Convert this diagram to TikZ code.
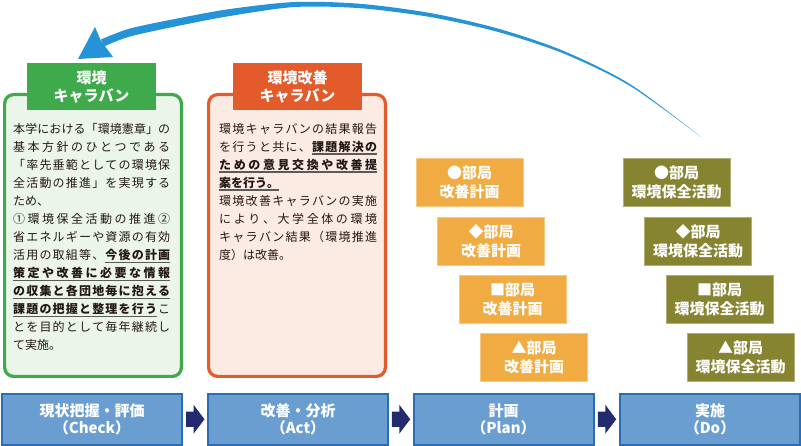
\documentclass[tikz,border=0pt]{standalone}
\usepackage{fontspec}
\setmainfont{Noto Sans CJK JP}
\usetikzlibrary{calc}
\definecolor{cGreen}{HTML}{3EAA4C}
\definecolor{cGreenL}{HTML}{EBF5EA}
\definecolor{cRed}{HTML}{E35B2B}
\definecolor{cRedL}{HTML}{FBEBE3}
\definecolor{cOrange}{HTML}{F0AB42}
\definecolor{cOlive}{HTML}{868331}
\definecolor{cBlueF}{HTML}{6B9ED0}
\definecolor{cBlueD}{HTML}{2C6CB2}
\definecolor{cNavy}{HTML}{222B6E}
\definecolor{cArc}{HTML}{2593D8}
\definecolor{textc}{HTML}{231815}
\definecolor{ulc}{HTML}{5A5A5A}
\ExplSyntaxOn
\cs_new_protected:Npn \__jl_gap: { \hskip 0pt plus 1fil \relax }
\cs_new_protected:Npn \__jl_ulgap: { \leaders \hrule height -2.2pt depth 3.6pt \hskip 0pt plus 1fil \relax }
\cs_new_protected:Npn \__jl_ulchar:n #1
  {
    \hbox_set:Nn \l_tmpa_box { \bfseries \textcolor{textc}{#1} }
    \rlap{ \rule[-3.6pt]{ \box_wd:N \l_tmpa_box }{1.4pt} }
    \box_use:N \l_tmpa_box
  }
\NewDocumentCommand \jl { s O{157pt} m m m }
  {
    \mode_leave_vertical:
    \hbox_to_wd:nn {#2}
      {
        \tl_map_inline:nn {#3} { ##1 \__jl_gap: }
        \tl_if_blank:nF {#4}
          {
            { \color{ulc} \tl_map_inline:nn {#4} { \__jl_ulchar:n {##1} \__jl_ulgap: } \unskip }
            \__jl_gap:
          }
        \tl_map_inline:nn {#5} { ##1 \__jl_gap: }
        \unskip
        \IfBooleanT {#1} { \hskip 0pt plus 1filll \relax }
      }
  }
\ExplSyntaxOff
\newcommand\blockarr[2]{%
  \fill[cNavy] ($(#1.east)!0.5!(#2.west)$) ++(-9,-7.5) -- ++(7.5,0) -- ++(0,-7) -- ++(11,14.5) -- ++(-11,14.5) -- ++(0,-7) -- ++(-7.5,0) -- cycle;}
\tikzset{
  bigbox/.style={line width=3.2pt, rounded corners=9pt, minimum width=176.8pt, minimum height=281.8pt, inner sep=0pt},
  tabbox/.style={inner sep=0pt, minimum width=129pt, minimum height=47pt, text=white, align=center,
    font=\bfseries\fontsize{15}{18}\selectfont},
  bodytext/.style={anchor=north west, inner sep=0pt, text=textc, align=left,
    font=\fontsize{12}{18}\selectfont},
  sbox/.style={inner sep=0pt, minimum width=107pt, minimum height=48pt, text=white, align=center,
    font=\bfseries\fontsize{15}{19}\selectfont, line width=0.8pt},
  obox/.style={sbox, fill=cOrange, draw=cOrange!65!white},
  vbox/.style={sbox, fill=cOlive, draw=cOlive!65!white},
  bbox/.style={inner sep=0pt, minimum width=180pt, minimum height=50.5pt, fill=cBlueF, draw=cBlueD,
    line width=2pt, text=white, align=center, font=\bfseries\fontsize{15}{17.5}\selectfont},
}
\begin{document}
\begin{tikzpicture}[x=1pt,y=-1pt]
\useasboundingbox (0,0) rectangle (801,446);
% green caravan
\node[bigbox, draw=cGreen, fill=cGreenL] (gbox) at (93,235.5) {};
\node[tabbox, fill=cGreen] (gtab) at (91.5,86.5) {環境\\キャラバン};
\node[bodytext, text width=157pt] (gtext) at (13,123) {%
\jl{本学における「環境憲章」の}{}{}\\
\jl{基本方針のひとつである}{}{}\\
\jl{「率先垂範としての環境保}{}{}\\
\jl{全活動の推進」を実現する}{}{}\\
\jl*{ため、}{}{}\\
\jl{①環境保全活動の推進②}{}{}\\
\jl{省エネルギーや資源の有効}{}{}\\
\jl{活用の取組等、}{今後の計画}{}\\
\jl{}{策定や改善に必要な情報}{}\\
\jl{}{の収集と各団地毎に抱える}{}\\
\jl{}{課題の把握と整理を行う}{こ}\\
\jl{とを目的として毎年継続し}{}{}\\
\jl*{て実施。}{}{}};
% orange caravan
\node[bigbox, draw=cRed, fill=cRedL] (rbox) at (297,235.5) {};
\node[tabbox, fill=cRed] (rtab) at (297.5,86.5) {環境改善\\キャラバン};
\node[bodytext, text width=158pt] (rtext) at (219,123) {%
\jl[158pt]{環境キャラバンの結果報告}{}{}\\
\jl[158pt]{を行うと共に、}{課題解決の}{}\\
\jl[158pt]{}{ための意見交換や改善提}{}\\
\jl*[158pt]{}{案を行う。}{}\\
\jl[158pt]{環境改善キャラバンの実施}{}{}\\
\jl[158pt]{により、大学全体の環境}{}{}\\
\jl[158pt]{キャラバン結果（環境推進}{}{}\\
\jl*[158pt]{度）は改善。}{}{}};
% plan boxes
\node[obox] (o1) at (469.5,182.5) {●部局\\改善計画};
\node[obox] (o2) at (491,241) {◆部局\\改善計画};
\node[obox] (o3) at (512.5,299) {■部局\\改善計画};
\node[obox] (o4) at (534,357) {▲部局\\改善計画};
% do boxes
\node[vbox] (d1) at (676.5,182.5) {●部局\\環境保全活動};
\node[vbox] (d2) at (698,241) {◆部局\\環境保全活動};
\node[vbox] (d3) at (719.5,299) {■部局\\環境保全活動};
\node[vbox] (d4) at (740.5,357) {▲部局\\環境保全活動};
% bottom flow
\node[bbox] (b1) at (92,419.25) {現状把握・評価\\（Check）};
\node[bbox] (b2) at (298,419.25) {改善・分析\\（Act）};
\node[bbox] (b3) at (503.5,419.25) {計画\\（Plan）};
\node[bbox] (b4) at (710,419.25) {実施\\（Do）};
\blockarr{b1}{b2}
\blockarr{b2}{b3}
\blockarr{b3}{b4}
% return arc
\coordinate (arcS) at (701,137);
\coordinate (arcT) at (78,59);
\fill[cArc] plot[smooth] coordinates {(101,39.5) (130,28.5) (180,18) (230,9) (295,2) (360,3.8) (430,13) (497,28.3) (563,50.7) (630,84.1) (arcS)}
  -- plot[smooth] coordinates {(arcS) (630,85.9) (563,53.3) (497,31.7) (430,17) (360,8.2) (295,7) (230,16) (180,25.5) (130,36.5) (104,46.5)} -- cycle;
\fill[cArc] (arcT) -- (95,27) -- (101,41) -- (113,57) -- cycle;
\end{tikzpicture}
\end{document}
